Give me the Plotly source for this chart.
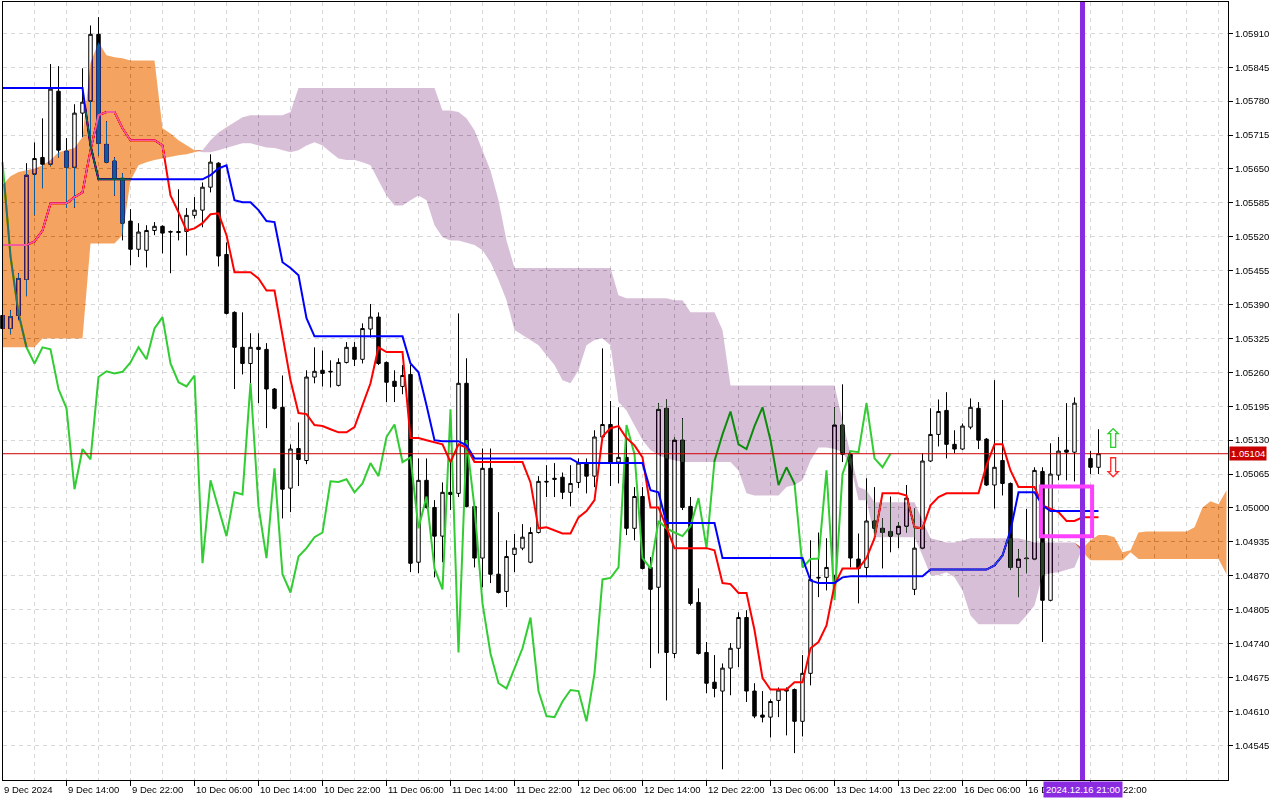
import numpy as np
import pandas as pd
import plotly.graph_objects as go

# ------------------------------------------------------------------ data
bar_times = pd.date_range("2024-12-09 06:00", "2024-12-16 23:00", freq="h")
bar_times = bar_times[bar_times.dayofweek < 5]          # H1 bars, weekend skipped

opens = [1.05369, 1.05344, 1.05369, 1.05438, 1.05640, 1.05672, 1.05659, 1.05799, 1.05684, 1.05653,
         1.05757, 1.05780, 1.05908, 1.05697, 1.05665, 1.05632, 1.05550, 1.05496, 1.05494, 1.05532,
         1.05540, 1.05530, 1.05530, 1.05530, 1.05561, 1.05571, 1.05615, 1.05661, 1.05486, 1.05375,
         1.05308, 1.05277, 1.05308, 1.05304, 1.05228, 1.05193, 1.05038, 1.05114, 1.05091, 1.05251,
         1.05264, 1.05262, 1.05235, 1.05279, 1.05308, 1.05285, 1.05343, 1.05366, 1.05279, 1.05243,
         1.05233, 1.05256, 1.04896, 1.05053, 1.05001, 1.04946, 1.05030, 1.05028, 1.05239, 1.05003,
         1.04904, 1.05076, 1.04873, 1.04840, 1.04911, 1.04923, 1.04896, 1.04953, 1.05051, 1.05057,
         1.05059, 1.05030, 1.05049, 1.05086, 1.05061, 1.05136, 1.05160, 1.05088, 1.05097, 1.04961,
         1.05022, 1.04886, 1.04848, 1.05191, 1.04721, 1.05130, 1.05003, 1.04819, 1.04723, 1.04666,
         1.04649, 1.04693, 1.04731, 1.04790, 1.04649, 1.04603, 1.04599, 1.04631, 1.04652, 1.04652,
         1.04591, 1.04683, 1.04867, 1.04867, 1.04871, 1.05159, 1.05103, 1.04902, 1.04886, 1.04975,
         1.04961, 1.04955, 1.04950, 1.04965, 1.04844, 1.04923, 1.05090, 1.05141, 1.05187, 1.05122,
         1.05113, 1.05155, 1.05191, 1.05132, 1.05044, 1.05091, 1.05047, 1.04886, 1.04904, 1.04902,
         1.05070, 1.04823, 1.05063, 1.05111, 1.05107, 1.05201, 1.05095, 1.05078]

highs = [1.05383, 1.05379, 1.05450, 1.05661, 1.05701, 1.05747, 1.05851, 1.05847, 1.05709, 1.05774,
         1.05843, 1.05925, 1.05941, 1.05741, 1.05672, 1.05642, 1.05573, 1.05546, 1.05542, 1.05548,
         1.05542, 1.05532, 1.05611, 1.05575, 1.05596, 1.05624, 1.05678, 1.05663, 1.05509, 1.05377,
         1.05375, 1.05335, 1.05335, 1.05316, 1.05230, 1.05254, 1.05122, 1.05164, 1.05264, 1.05308,
         1.05302, 1.05283, 1.05287, 1.05318, 1.05318, 1.05354, 1.05391, 1.05375, 1.05281, 1.05264,
         1.05274, 1.05274, 1.05095, 1.05095, 1.05015, 1.05049, 1.05088, 1.05373, 1.05287, 1.05005,
         1.05114, 1.05114, 1.04992, 1.04938, 1.04950, 1.04969, 1.04963, 1.05061, 1.05082, 1.05086,
         1.05068, 1.05082, 1.05095, 1.05095, 1.05149, 1.05306, 1.05205, 1.05193, 1.05155, 1.05040,
         1.05040, 1.04906, 1.05201, 1.05208, 1.05136, 1.05172, 1.05021, 1.04846, 1.04743, 1.04718,
         1.04702, 1.04741, 1.04800, 1.04804, 1.04664, 1.04649, 1.04633, 1.04656, 1.04656, 1.04654,
         1.04718, 1.04938, 1.04953, 1.04942, 1.05193, 1.05237, 1.05105, 1.04951, 1.05057, 1.05040,
         1.04980, 1.05022, 1.04973, 1.05044, 1.04999, 1.05105, 1.05191, 1.05208, 1.05222, 1.05149,
         1.05162, 1.05210, 1.05203, 1.05134, 1.05245, 1.05207, 1.05049, 1.04921, 1.04998, 1.05078,
         1.05078, 1.05124, 1.05136, 1.05201, 1.05212, 1.05207, 1.05109, 1.05151]

lows = [1.05337, 1.05333, 1.05360, 1.05406, 1.05561, 1.05613, 1.05655, 1.05672, 1.05575, 1.05576,
        1.05711, 1.05686, 1.05676, 1.05661, 1.05599, 1.05513, 1.05465, 1.05481, 1.05461, 1.05523,
        1.05488, 1.05450, 1.05513, 1.05484, 1.05555, 1.05538, 1.05605, 1.05463, 1.05371, 1.05228,
        1.05256, 1.05239, 1.05201, 1.05153, 1.05189, 1.04980, 1.04992, 1.05042, 1.05084, 1.05239,
        1.05233, 1.05231, 1.05233, 1.05277, 1.05272, 1.05277, 1.05327, 1.05274, 1.05203, 1.05203,
        1.05218, 1.04877, 1.04875, 1.04999, 1.04867, 1.04896, 1.04996, 1.05021, 1.05001, 1.04886,
        1.04848, 1.04856, 1.04836, 1.04810, 1.04877, 1.04919, 1.04894, 1.04951, 1.05021, 1.05021,
        1.05017, 1.05003, 1.05038, 1.05028, 1.05040, 1.05130, 1.05042, 1.05047, 1.04948, 1.04938,
        1.04882, 1.04693, 1.04721, 1.04631, 1.04712, 1.04996, 1.04813, 1.04719, 1.04645, 1.04637,
        1.04499, 1.04641, 1.04695, 1.04628, 1.04597, 1.04589, 1.04560, 1.04599, 1.04564, 1.04530,
        1.04562, 1.04660, 1.04829, 1.04842, 1.04846, 1.05088, 1.04886, 1.04817, 1.04867, 1.04938,
        1.04884, 1.04915, 1.04923, 1.04953, 1.04833, 1.04921, 1.05088, 1.05118, 1.05095, 1.05105,
        1.05111, 1.05151, 1.05113, 1.05042, 1.04999, 1.05024, 1.04881, 1.04829, 1.04875, 1.04900,
        1.04743, 1.04821, 1.05053, 1.05053, 1.05051, 1.05082, 1.05065, 1.05065]

closes = [1.05344, 1.05367, 1.05440, 1.05638, 1.05670, 1.05659, 1.05803, 1.05686, 1.05653, 1.05757,
          1.05778, 1.05908, 1.05699, 1.05663, 1.05632, 1.05546, 1.05496, 1.05529, 1.05532, 1.05540,
          1.05527, 1.05529, 1.05528, 1.05561, 1.05571, 1.05615, 1.05663, 1.05483, 1.05373, 1.05308,
          1.05277, 1.05308, 1.05304, 1.05228, 1.05191, 1.05036, 1.05113, 1.05093, 1.05251, 1.05262,
          1.05258, 1.05261, 1.05279, 1.05308, 1.05285, 1.05344, 1.05366, 1.05277, 1.05241, 1.05233,
          1.05254, 1.04894, 1.05053, 1.05001, 1.04946, 1.05030, 1.05026, 1.05239, 1.05003, 1.04904,
          1.05076, 1.04873, 1.04838, 1.04907, 1.04923, 1.04944, 1.04953, 1.05051, 1.05050, 1.05055,
          1.05030, 1.05047, 1.05086, 1.05061, 1.05136, 1.05160, 1.05088, 1.05097, 1.04961, 1.05022,
          1.04884, 1.04844, 1.05189, 1.04723, 1.05130, 1.05001, 1.04817, 1.04721, 1.04664, 1.04654,
          1.04693, 1.04731, 1.04790, 1.04649, 1.04601, 1.04599, 1.04629, 1.04651, 1.04649, 1.04591,
          1.04683, 1.04863, 1.04866, 1.04886, 1.05159, 1.05103, 1.04904, 1.04884, 1.04975, 1.04961,
          1.04953, 1.04946, 1.04965, 1.05019, 1.04923, 1.05090, 1.05141, 1.05185, 1.05122, 1.05113,
          1.05157, 1.05193, 1.05130, 1.05044, 1.05078, 1.05047, 1.04886, 1.04902, 1.04903, 1.05072,
          1.04823, 1.05065, 1.05109, 1.05107, 1.05201, 1.05095, 1.05078, 1.05104]

tenkan = [1.05504, 1.05504, 1.05504, 1.05504, 1.05511, 1.05532, 1.05584, 1.05584, 1.05584, 1.05596,
          1.05605, 1.05686, 1.05753, 1.05759, 1.05759, 1.05728, 1.05705, 1.05705, 1.05705, 1.05705,
          1.05695, 1.05599, 1.05567, 1.05532, 1.05536, 1.05546, 1.05563, 1.05565, 1.05523, 1.05452,
          1.05452, 1.05452, 1.05440, 1.05417, 1.05417, 1.05331, 1.05245, 1.05182, 1.05180, 1.05159,
          1.05157, 1.05151, 1.05145, 1.05145, 1.05155, 1.05197, 1.05239, 1.05308, 1.05299, 1.05299,
          1.05299, 1.05134, 1.05134, 1.05130, 1.05126, 1.05122, 1.05088, 1.05122, 1.05116, 1.05088,
          1.05088, 1.05088, 1.05088, 1.05088, 1.05088, 1.05088, 1.05049, 1.04961, 1.04963, 1.04957,
          1.04951, 1.04951, 1.04982, 1.04994, 1.05015, 1.05137, 1.05153, 1.05157, 1.05134, 1.05120,
          1.05097, 1.05001, 1.05001, 1.04963, 1.04923, 1.04923, 1.04923, 1.04923, 1.04923, 1.04919,
          1.04856, 1.04854, 1.04837, 1.04837, 1.04766, 1.04674, 1.04652, 1.04652, 1.04652, 1.04666,
          1.04666, 1.04731, 1.04743, 1.04775, 1.04852, 1.04884, 1.04884, 1.04884, 1.04904, 1.04942,
          1.05028, 1.05028, 1.05028, 1.05024, 1.04963, 1.04961, 1.05005, 1.05021, 1.05028, 1.05028,
          1.05028, 1.05028, 1.05028, 1.05082, 1.05122, 1.05122, 1.05072, 1.05040, 1.05040, 1.05040,
          1.05005, 1.04999, 1.04992, 1.04975, 1.04975, 1.04982, 1.04982, 1.04982]

kijun = [1.05805, 1.05805, 1.05805, 1.05805, 1.05805, 1.05805, 1.05805, 1.05805, 1.05805, 1.05805,
         1.05805, 1.05695, 1.05630, 1.05630, 1.05630, 1.05630, 1.05630, 1.05630, 1.05630, 1.05630,
         1.05630, 1.05630, 1.05630, 1.05630, 1.05630, 1.05630, 1.05638, 1.05651, 1.05657, 1.05590,
         1.05586, 1.05586, 1.05571, 1.05550, 1.05548, 1.05471, 1.05460, 1.05446, 1.05364, 1.05329,
         1.05329, 1.05329, 1.05329, 1.05329, 1.05329, 1.05329, 1.05329, 1.05329, 1.05329, 1.05329,
         1.05329, 1.05277, 1.05260, 1.05197, 1.05130, 1.05128, 1.05128, 1.05128, 1.05120, 1.05095,
         1.05095, 1.05095, 1.05095, 1.05095, 1.05095, 1.05095, 1.05095, 1.05095, 1.05095, 1.05095,
         1.05095, 1.05095, 1.05086, 1.05086, 1.05086, 1.05086, 1.05086, 1.05086, 1.05086, 1.05086,
         1.05086, 1.05034, 1.05030, 1.04971, 1.04971, 1.04971, 1.04971, 1.04971, 1.04971, 1.04971,
         1.04904, 1.04904, 1.04904, 1.04904, 1.04904, 1.04904, 1.04904, 1.04904, 1.04904, 1.04904,
         1.04904, 1.04861, 1.04856, 1.04856, 1.04856, 1.04867, 1.04869, 1.04869, 1.04869, 1.04869,
         1.04869, 1.04869, 1.04869, 1.04869, 1.04869, 1.04869, 1.04882, 1.04882, 1.04882, 1.04882,
         1.04882, 1.04882, 1.04882, 1.04882, 1.04890, 1.04909, 1.04957, 1.05030, 1.05030, 1.05030,
         1.05005, 1.04994, 1.04994, 1.04994, 1.04994, 1.04994, 1.04994, 1.04994]

# Senkou spans, already displaced 26 bars forward (154 bar slots incl. future)
senkou_a = [1.05619, 1.05636, 1.05644, 1.05647, 1.05651, 1.05657, 1.05667, 1.05682, 1.05686, 1.05690,
            1.05711, 1.05853, 1.05893, 1.05868, 1.05864, 1.05862, 1.05858, 1.05858, 1.05858, 1.05858,
            1.05728, 1.05718, 1.05705, 1.05695, 1.05686, 1.05682, 1.05682, 1.05686, 1.05691, 1.05695,
            1.05699, 1.05699, 1.05695, 1.05691, 1.05690, 1.05686, 1.05682, 1.05686, 1.05695, 1.05701,
            1.05695, 1.05682, 1.05670, 1.05667, 1.05667, 1.05663, 1.05657, 1.05628, 1.05599, 1.05580,
            1.05580, 1.05590, 1.05599, 1.05590, 1.05542, 1.05519, 1.05513, 1.05513, 1.05509, 1.05504,
            1.05494, 1.05471, 1.05437, 1.05398, 1.05341, 1.05331, 1.05322, 1.05312, 1.05293, 1.05274,
            1.05245, 1.05239, 1.05264, 1.05312, 1.05322, 1.05325, 1.05312, 1.05203, 1.05187, 1.05159,
            1.05130, 1.05111, 1.05101, 1.05095, 1.05091, 1.05088, 1.05088, 1.05088, 1.05088, 1.05088,
            1.05088, 1.05088, 1.05072, 1.05028, 1.05024, 1.05024, 1.05024, 1.05024, 1.05040, 1.05044,
            1.05053, 1.05091, 1.05116, 1.05116, 1.05113, 1.05107, 1.05082, 1.05015, 1.05015, 1.04944,
            1.04944, 1.04944, 1.04944, 1.04944, 1.04944, 1.04909, 1.04871, 1.04871, 1.04877, 1.04867,
            1.04842, 1.04794, 1.04777, 1.04777, 1.04777, 1.04777, 1.04777, 1.04777, 1.04794, 1.04813,
            1.04871, 1.04875, 1.04877, 1.04881, 1.04886, 1.04923, 1.04938, 1.04948, 1.04948, 1.04944,
            1.04915, 1.04919, 1.04953, 1.04955, 1.04955, 1.04955, 1.04955, 1.04955, 1.04955, 1.04963,
            1.05001, 1.05013, 1.05007, 1.05034]

senkou_b = [1.05308, 1.05308, 1.05308, 1.05308, 1.05308, 1.05325, 1.05325, 1.05325, 1.05325, 1.05325,
            1.05325, 1.05507, 1.05507, 1.05507, 1.05507, 1.05523, 1.05628, 1.05657, 1.05663, 1.05667,
            1.05670, 1.05674, 1.05676, 1.05678, 1.05682, 1.05686, 1.05705, 1.05720, 1.05730, 1.05739,
            1.05749, 1.05753, 1.05753, 1.05753, 1.05753, 1.05753, 1.05759, 1.05805, 1.05805, 1.05805,
            1.05805, 1.05805, 1.05805, 1.05805, 1.05805, 1.05805, 1.05805, 1.05805, 1.05805, 1.05805,
            1.05805, 1.05805, 1.05805, 1.05805, 1.05805, 1.05762, 1.05762, 1.05759, 1.05747, 1.05724,
            1.05686, 1.05647, 1.05590, 1.05513, 1.05460, 1.05460, 1.05460, 1.05460, 1.05460, 1.05460,
            1.05460, 1.05460, 1.05460, 1.05460, 1.05460, 1.05460, 1.05460, 1.05408, 1.05402, 1.05402,
            1.05402, 1.05402, 1.05402, 1.05402, 1.05398, 1.05398, 1.05375, 1.05375, 1.05375, 1.05375,
            1.05341, 1.05235, 1.05235, 1.05235, 1.05235, 1.05235, 1.05235, 1.05235, 1.05235, 1.05235,
            1.05235, 1.05235, 1.05235, 1.05235, 1.05235, 1.05168, 1.05101, 1.05040, 1.05034, 1.05011,
            1.05011, 1.05011, 1.05011, 1.05011, 1.05011, 1.04976, 1.04942, 1.04938, 1.04934, 1.04934,
            1.04938, 1.04942, 1.04942, 1.04942, 1.04942, 1.04942, 1.04942, 1.04942, 1.04938, 1.04934,
            1.04934, 1.04934, 1.04934, 1.04934, 1.04934, 1.04915, 1.04900, 1.04900, 1.04900, 1.04900,
            1.04900, 1.04915, 1.04902, 1.04902, 1.04902, 1.04902, 1.04902, 1.04902, 1.04902, 1.04902,
            1.04902, 1.04902, 1.04902, 1.04873]

chikou_shift = 26
price_ticks = [1.04545, 1.04610, 1.04675, 1.04740, 1.04805, 1.04870, 1.04935, 1.05000, 1.05065,
               1.05130, 1.05195, 1.05260, 1.05325, 1.05390, 1.05455, 1.05520, 1.05585, 1.05650,
               1.05715, 1.05780, 1.05845, 1.05910]
current_price = 1.05104
marker_time = pd.Timestamp("2024-12-16 21:00")
marker_label = "2024.12.16 21:00"
signal_bar = 138.9
signal_up_price = 1.05133
signal_down_price = 1.05078
box_bars = (129.8, 136.2)
box_prices = (1.04946, 1.05041)

# ------------------------------------------------------------------ styling
FONT = "Liberation Sans"
GRID = "#D6D6D6"
ORANGE_KEY = "#0B5B9F"    # SandyBrown rendered MT-style (inverted over white)
THISTLE_KEY = "#274027"   # Thistle rendered MT-style (inverted over white)
X_RANGE = [0.0625, 153.1875]
MARKER_HALF = 4.9         # half width of the time marker label, in bars

n = len(opens)
idx = np.arange(n)
cloud_x = np.arange(len(senkou_a))
sa = np.array(senkou_a)
sb = np.array(senkou_b)
top = np.maximum(sa, sb)

fig = go.Figure()

fig.add_trace(go.Candlestick(
    x=idx, open=opens, high=highs, low=lows, close=closes,
    increasing=dict(line=dict(color="black", width=1), fillcolor="white"),
    decreasing=dict(line=dict(color="black", width=1), fillcolor="black"),
    whiskerwidth=0, hoverinfo="skip", showlegend=False))

fig.add_trace(go.Scatter(x=idx[:n - chikou_shift], y=closes[chikou_shift:], mode="lines",
                         line=dict(color="#32CD32", width=2), hoverinfo="skip"))
fig.add_trace(go.Scatter(x=idx, y=tenkan, mode="lines",
                         line=dict(color="#FF0000", width=2), hoverinfo="skip"))
fig.add_trace(go.Scatter(x=idx, y=kijun, mode="lines",
                         line=dict(color="#0000FF", width=2), hoverinfo="skip"))

# cloud: A above B -> sandy, B above A -> thistle
fig.add_trace(go.Scatter(x=cloud_x, y=sb, mode="lines", line=dict(width=0, color=ORANGE_KEY),
                         hoverinfo="skip"))
fig.add_trace(go.Scatter(x=cloud_x, y=top, mode="lines", line=dict(width=0, color=ORANGE_KEY),
                         fill="tonexty", fillcolor=ORANGE_KEY, hoverinfo="skip"))
fig.add_trace(go.Scatter(x=cloud_x, y=sa, mode="lines", line=dict(width=0, color=THISTLE_KEY),
                         hoverinfo="skip"))
fig.add_trace(go.Scatter(x=cloud_x, y=top, mode="lines", line=dict(width=0, color=THISTLE_KEY),
                         fill="tonexty", fillcolor=THISTLE_KEY, hoverinfo="skip"))

marker_idx = int(np.where(bar_times == marker_time)[0][0])

shapes = [
    dict(type="line", xref="paper", x0=0, x1=1, yref="y", y0=current_price, y1=current_price,
         line=dict(color="#D00000", width=1), layer="above"),
    dict(type="line", xref="x", x0=marker_idx, x1=marker_idx, yref="paper", y0=0, y1=1,
         line=dict(color="#8A2BE2", width=5), layer="above"),
    dict(type="rect", xref="x", x0=box_bars[0], x1=box_bars[1], yref="y",
         y0=box_prices[0], y1=box_prices[1], line=dict(color="#FF40FF", width=4), layer="above"),
]

annotations = []
label_idx = list(range(0, n, 8))
mk_left, mk_right = marker_idx - MARKER_HALF, marker_idx + MARKER_HALF
for k in label_idx:
    t = bar_times[k]
    txt = f"{t.day} {t.strftime('%b')} {t.year}" if k == 0 else f"{t.day} {t.strftime('%b %H:%M')}"
    xpos = max(k, X_RANGE[0])
    if k < mk_left < k + 6.8:            # partly hidden behind the time marker label
        txt = txt[:4]
    elif mk_left <= k <= mk_right:       # only the tail shows after the marker label
        txt = t.strftime('%H:%M')
        xpos = mk_right
    annotations.append(dict(x=xpos, y=0, xref="x", yref="paper", text=txt, showarrow=False,
                            xanchor="left", yanchor="top", yshift=-2, xshift=-1,
                            font=dict(family=FONT, size=9.5, color="black")))
annotations.append(dict(x=marker_idx, y=0, xref="x", yref="paper", text=marker_label,
                        showarrow=False, xanchor="center", yanchor="top", yshift=-1,
                        bgcolor="#8A2BE2", borderpad=2,
                        font=dict(family=FONT, size=9.5, color="white")))
annotations.append(dict(x=1, y=current_price, xref="paper", yref="y", text=f"{current_price:.5f}",
                        showarrow=False, xanchor="left", yanchor="middle", xshift=1,
                        bgcolor="#C80000", borderpad=1,
                        font=dict(family=FONT, size=9.5, color="white")))
annotations.append(dict(x=signal_bar, y=signal_up_price, xref="x", yref="y", text="⇧",
                        showarrow=False, font=dict(family="DejaVu Sans", size=27, color="#2ECC2E")))
annotations.append(dict(x=signal_bar, y=signal_down_price, xref="x", yref="y", text="⇩",
                        showarrow=False, font=dict(family="DejaVu Sans", size=27, color="#FF2A2A")))

fig.update_layout(
    width=1280, height=800,
    margin=dict(l=3, r=52, t=2, b=20, pad=0),
    paper_bgcolor="white", plot_bgcolor="white",
    showlegend=False, boxgap=0.38,
    shapes=shapes, annotations=annotations,
    font=dict(family=FONT, size=9.5, color="black"),
    xaxis=dict(range=X_RANGE, fixedrange=True, rangeslider=dict(visible=False),
               showline=True, mirror=True, linecolor="black", linewidth=1,
               tickmode="array", tickvals=label_idx, ticks="outside", ticklen=5,
               tickcolor="black", showticklabels=False,
               showgrid=True, gridcolor=GRID, griddash="4px,4px", gridwidth=1,
               minor=dict(tickmode="linear", tick0=0, dtick=4, showgrid=True, gridcolor=GRID,
                          griddash="4px,4px", ticks=""),
               zeroline=False, automargin=False),
    yaxis=dict(range=[1.044785, 1.059700], fixedrange=True, side="right",
               showline=True, mirror=True, linecolor="black", linewidth=1,
               tickmode="array", tickvals=price_ticks, ticktext=[f"{v:.5f}" for v in price_ticks],
               ticks="outside", ticklen=4, tickcolor="black",
               tickfont=dict(family=FONT, size=9.5, color="black"),
               showgrid=True, gridcolor=GRID, griddash="4px,4px", gridwidth=1,
               zeroline=False, automargin=False),
)

blend_js = """
(function(){
  document.documentElement.style.margin = '0';
  document.documentElement.style.padding = '0';
  document.body.style.margin = '0';
  document.body.style.padding = '0';
  document.body.style.overflow = 'hidden';
  var gd = document.getElementById('{plot_id}');
  var keys = ['rgb(11,91,159)', 'rgb(39,64,39)'];
  function blend(){
    gd.querySelectorAll('path.js-fill').forEach(function(p){
      var f = (p.style.fill || '').replace(/\\s/g, '');
      if (keys.indexOf(f) >= 0) {
        p.style.mixBlendMode = 'difference';
        var el = p.parentNode;
        while (el && el !== gd) {
          if (el.removeAttribute) { el.removeAttribute('clip-path'); }
          if (el.style) { el.style.clipPath = ''; }
          el = el.parentNode;
        }
      }
    });
  }
  blend();
  if (gd && gd.on) { gd.on('plotly_afterplot', blend); }
})();
"""

fig.write_html("out.html", config={"displayModeBar": False, "staticPlot": True},
               post_script=blend_js)
